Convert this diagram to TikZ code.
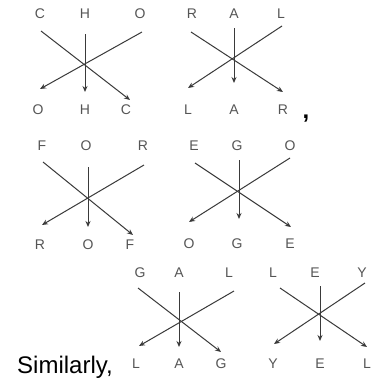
\documentclass[tikz,border=0pt]{standalone}
\usepackage{fontspec}
\setmainfont{Liberation Sans}
\usetikzlibrary{arrows.meta}
\definecolor{lettergray}{HTML}{555555}
\definecolor{linegray}{HTML}{3A3A3A}
\begin{document}
\begin{tikzpicture}[x=1pt,y=-1pt,
  letter/.style={font=\fontsize{14}{14}\selectfont, text=lettergray, inner sep=0pt, anchor=center},
  cross/.style={draw=linegray, line width=1pt, -{Stealth[length=6pt,width=5pt]}}]
\useasboundingbox[fill=white] (0,0) rectangle (374,378);
% group 1: CHO
\node[letter] (g1t1) at (40,14) {C};
\node[letter] (g1t2) at (85,14) {H};
\node[letter] (g1t3) at (140,14) {O};
\node[letter] (g1b1) at (38,110) {O};
\node[letter] (g1b2) at (85,110) {H};
\node[letter] (g1b3) at (126,110) {C};
\coordinate (g1s1) at (41,31);  \coordinate (g1e1) at (130,100);
\coordinate (g1s2) at (85,34);  \coordinate (g1e2) at (85,92);
\coordinate (g1s3) at (142,32); \coordinate (g1e3) at (40,89);
\draw[cross] (g1s1) -- (g1e1);
\draw[cross] (g1s2) -- (g1e2);
\draw[cross] (g1s3) -- (g1e3);
% group 2: RAL
\node[letter] (g2t1) at (192,14) {R};
\node[letter] (g2t2) at (234,14) {A};
\node[letter] (g2t3) at (281,14) {L};
\node[letter] (g2b1) at (188,110) {L};
\node[letter] (g2b2) at (234,110) {A};
\node[letter] (g2b3) at (283,110) {R};
\coordinate (g2s1) at (191,32);  \coordinate (g2e1) at (283,92);
\coordinate (g2s2) at (234,28);  \coordinate (g2e2) at (234,83);
\coordinate (g2s3) at (282,26);  \coordinate (g2e3) at (188,88);
\draw[cross] (g2s1) -- (g2e1);
\draw[cross] (g2s2) -- (g2e2);
\draw[cross] (g2s3) -- (g2e3);
\node[font=\fontsize{24}{24}\selectfont\bfseries, inner sep=0pt, anchor=base] (comma) at (306,118) {,};
% group 3: FOR
\node[letter] (g3t1) at (42,146) {F};
\node[letter] (g3t2) at (86,146) {O};
\node[letter] (g3t3) at (143,146) {R};
\node[letter] (g3b1) at (40,245) {R};
\node[letter] (g3b2) at (88,245) {O};
\node[letter] (g3b3) at (130,245) {F};
\coordinate (g3s1) at (43,162);  \coordinate (g3e1) at (133,235);
\coordinate (g3s2) at (88,167);  \coordinate (g3e2) at (88,227);
\coordinate (g3s3) at (144,165); \coordinate (g3e3) at (42,225);
\draw[cross] (g3s1) -- (g3e1);
\draw[cross] (g3s2) -- (g3e2);
\draw[cross] (g3s3) -- (g3e3);
% group 4: EGO
\node[letter] (g4t1) at (194,146) {E};
\node[letter] (g4t2) at (237,146) {G};
\node[letter] (g4t3) at (290,146) {O};
\node[letter] (g4b1) at (189,244) {O};
\node[letter] (g4b2) at (237,244) {G};
\node[letter] (g4b3) at (290,244) {E};
\coordinate (g4s1) at (195,163);  \coordinate (g4e1) at (291,227);
\coordinate (g4s2) at (239,160);  \coordinate (g4e2) at (239,219);
\coordinate (g4s3) at (290,158);  \coordinate (g4e3) at (189,222);
\draw[cross] (g4s1) -- (g4e1);
\draw[cross] (g4s2) -- (g4e2);
\draw[cross] (g4s3) -- (g4e3);
% group 5: GAL
\node[letter] (g5t1) at (140,273) {G};
\node[letter] (g5t2) at (179,273) {A};
\node[letter] (g5t3) at (229,273) {L};
\node[letter] (g5b1) at (136,364) {L};
\node[letter] (g5b2) at (179,364) {A};
\node[letter] (g5b3) at (221,364) {G};
\coordinate (g5s1) at (138,288);  \coordinate (g5e1) at (221,352);
\coordinate (g5s2) at (179,292);  \coordinate (g5e2) at (179,347);
\coordinate (g5s3) at (234,291);  \coordinate (g5e3) at (139,346);
\draw[cross] (g5s1) -- (g5e1);
\draw[cross] (g5s2) -- (g5e2);
\draw[cross] (g5s3) -- (g5e3);
% group 6: LEY
\node[letter] (g6t1) at (273,273) {L};
\node[letter] (g6t2) at (315,273) {E};
\node[letter] (g6t3) at (362,273) {Y};
\node[letter] (g6b1) at (273,364) {Y};
\node[letter] (g6b2) at (320,364) {E};
\node[letter] (g6b3) at (367,364) {L};
\coordinate (g6s1) at (280,288);  \coordinate (g6e1) at (367,347);
\coordinate (g6s2) at (320,286);  \coordinate (g6e2) at (320,341);
\coordinate (g6s3) at (365,283);  \coordinate (g6e3) at (274,344);
\draw[cross] (g6s1) -- (g6e1);
\draw[cross] (g6s2) -- (g6e2);
\draw[cross] (g6s3) -- (g6e3);
% caption
\node[font=\fontsize{24}{24}\selectfont, inner sep=0pt, anchor=base west] (sim) at (17,373) {Similarly,};
\end{tikzpicture}
\end{document}
